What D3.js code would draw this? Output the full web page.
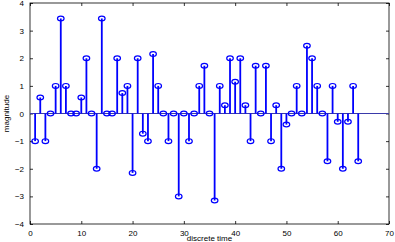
<!DOCTYPE html>
<html>
<head>
<meta charset="utf-8">
<script src="https://cdn.jsdelivr.net/npm/d3@7"></script>
<style>
  html, body { margin: 0; padding: 0; background: #fff; }
  svg { display: block; }
  text { font-family: "Liberation Sans", Arial, sans-serif; font-size: 8px; fill: #000; }
</style>
</head>
<body>
<script>
const width = 395, height = 242;

// stem values, n = 1..64
const n = d3.range(1, 65);
const values = [
  -1, 0.58, -1, 0, 1, 3.44, 1, 0, 0, 0.58,
  2, 0, -2, 3.44, 0, 0, 2, 0.74, 1, -2.15,
  2, -0.73, -1, 2.15, 1, 0, -1, 0, -3, 0,
  -1, 0, 1, 1.73, 0, -3.15, 1, 0.3, 2, 1.15,
  2, 0.3, -1, 1.73, 0, 1.73, -1, 0.3, -2, -0.4,
  0, 1, 0, 2.45, 2, 1, 0, -1.73, 1, -0.3,
  -2, -0.3, 1, -1.73
];
const xTicks = [0, 10, 20, 30, 40, 50, 60, 70];
const yTicks = [-4, -3, -2, -1, 0, 1, 2, 3, 4];

const margin = {left: 30, right: 6, top: 3, bottom: 18};

const svg = d3.select("body").append("svg")
    .attr("width", width)
    .attr("height", height);

const x = d3.scaleLinear().domain([0, 70]).range([margin.left, width - margin.right]);
const y = d3.scaleLinear().domain([-4, 4]).range([height - margin.bottom, margin.top]);

const x0 = x.range()[0], x1 = x.range()[1];
const y0 = y.range()[1], y1 = y.range()[0];

// bottom / left axes, inward ticks
svg.append("g")
    .attr("transform", `translate(0,${y1})`)
    .call(d3.axisBottom(x).tickValues(xTicks).tickSize(-3).tickPadding(6).tickFormat(d3.format("d")))
    .call(g => g.select(".domain").remove());

svg.append("g")
    .attr("transform", `translate(${x0},0)`)
    .call(d3.axisLeft(y).tickValues(yTicks).tickSize(-3).tickPadding(6).tickFormat(d3.format("d")))
    .call(g => g.select(".domain").remove());

// top / right ticks without labels
svg.append("g")
    .attr("transform", `translate(0,${y0})`)
    .call(d3.axisTop(x).tickValues(xTicks).tickSize(-3).tickFormat(""))
    .call(g => g.select(".domain").remove());

svg.append("g")
    .attr("transform", `translate(${x1},0)`)
    .call(d3.axisRight(y).tickValues(yTicks).tickSize(-3).tickFormat(""))
    .call(g => g.select(".domain").remove());

svg.selectAll(".tick text").style("font-size", "8px").style("font-family", "Liberation Sans, Arial, sans-serif");
svg.selectAll(".tick line").attr("stroke", "#000").attr("stroke-width", 0.8);

// box
svg.append("rect")
    .attr("x", x0).attr("y", y0)
    .attr("width", x1 - x0).attr("height", y1 - y0)
    .attr("fill", "none").attr("stroke", "#000").attr("stroke-width", 0.8);

// baseline
svg.append("line")
    .attr("x1", x0).attr("x2", x1)
    .attr("y1", y(0)).attr("y2", y(0))
    .attr("stroke", "#3a3aaa").attr("stroke-width", 1);

// stems
svg.append("g").selectAll("line")
    .data(n)
    .join("line")
    .attr("x1", (d) => x(d)).attr("x2", (d) => x(d))
    .attr("y1", y(0)).attr("y2", (d, i) => y(values[i]))
    .attr("stroke", "#0000ff").attr("stroke-width", 1.8);

// markers
svg.append("g").selectAll("ellipse")
    .data(n)
    .join("ellipse")
    .attr("cx", (d) => x(d))
    .attr("cy", (d, i) => y(values[i]))
    .attr("rx", 3.3).attr("ry", 2.4)
    .attr("fill", "none").attr("stroke", "#0000ff").attr("stroke-width", 1.2);

// labels
svg.append("text")
    .attr("x", (x0 + x1) / 2).attr("y", height - 1)
    .attr("text-anchor", "middle")
    .text("discrete time");

svg.append("text")
    .attr("transform", `translate(9,${(y0 + y1) / 2}) rotate(-90)`)
    .attr("text-anchor", "middle")
    .text("magnitude");
</script>
</body>
</html>
